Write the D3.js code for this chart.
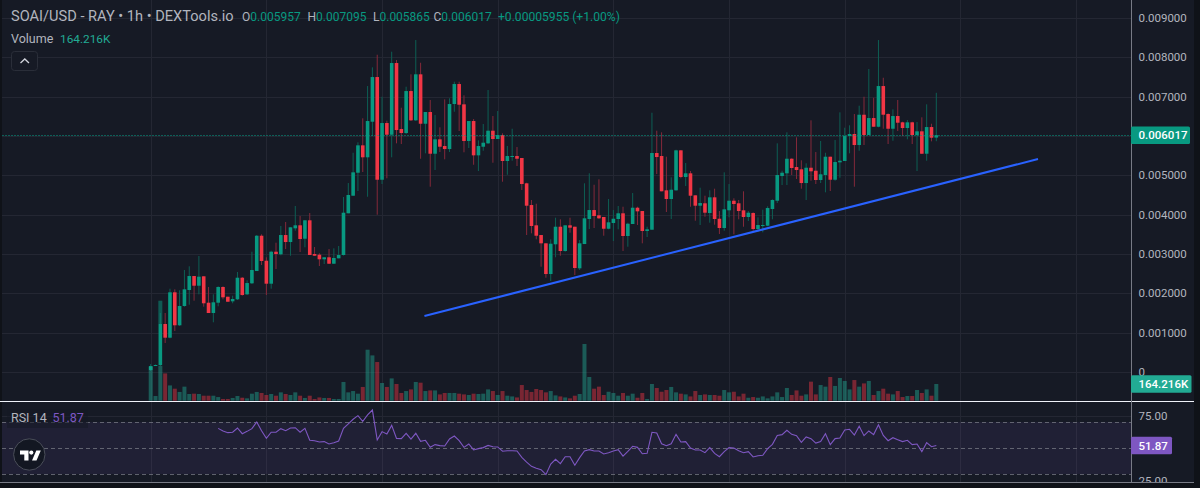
<!DOCTYPE html>
<html>
<head>
<meta charset="utf-8">
<script src="https://cdn.jsdelivr.net/npm/d3@7"></script>
<style>
  html, body { margin: 0; padding: 0; background: #0f1218; overflow: hidden; }
  text { font-family: Roboto, "Noto Sans", sans-serif; }
</style>
</head>
<body>
<div id="chart"></div>
<script>
// Prices are kept in millionths of a dollar, one entry per hourly candle
const opens = [
  51,152,178,1220,872,2025,1187,1677,2084,2439,
  2193,2432,1761,1499,1761,2160,1913,1796,1847,2396,
  1974,2254,2566,3463,2828,2244,3057,2991,3481,3303,
  3651,3728,3387,3855,2998,2981,2864,2915,2752,2889,
  2973,4033,4480,5064,5760,5456,6360,7496,4886,6327,
  6030,7852,6175,6073,7140,6396,7565,6309,6607,5547,
  5913,5743,5666,6810,7318,6802,5870,6378,5506,5725,
  5811,6132,5921,6022,5362,5471,5489,5438,4795,4243,
  3728,3481,3270,2490,3245,3692,3075,3728,3692,2635,
  3252,3888,4116,3982,3939,3641,3786,3888,4033,3456,
  3761,4175,4091,3583,3616,5565,5489,4617,4396,4617,
  5633,4955,5049,4490,4226,4287,4040,4439,3895,3659,
  4109,4353,4287,4109,3939,4040,3634,3718,3718,4142,
  4353,4980,5049,5420,5209,5151,4802,5191,5115,4879,
  5006,5471,4886,5328,5362,5997,6048,5768,6538,6022,
  6454,6233,7267,6556,6182,6505,6345,6200,6345,6022,
  6116,5547,6225,5957];
const closes = [
  152,178,1220,872,2025,1187,1677,2101,2439,2193,
  2422,1746,1499,1771,2160,1898,1786,1855,2396,1957,
  2261,2592,3463,2821,2244,3057,2998,3481,3303,3677,
  3728,3380,3855,2973,2955,2864,2915,2752,2897,2973,
  4048,4498,5074,5760,5456,6378,7496,4886,6327,6030,
  7852,6149,6073,7140,6396,7565,6309,6607,5547,5913,
  5725,5666,6810,7318,6792,5870,6378,5506,5743,5827,
  6132,5921,6022,5362,5489,5489,5420,4777,4226,3710,
  3463,3270,2490,3260,3692,3075,3728,3667,2643,3270,
  3906,4116,3964,3906,3641,3804,3895,4033,3456,3768,
  4175,4083,3583,3626,5565,5463,4592,4396,4632,5633,
  4955,5049,4480,4226,4294,4048,4439,3888,3659,4134,
  4353,4269,4091,3939,4048,3634,3735,3735,4167,4371,
  5006,5064,5420,5184,5133,4802,5191,5100,4879,5024,
  5471,4886,5336,5369,5997,6048,5768,6538,6022,6454,
  6233,7267,6538,6182,6505,6335,6200,6345,6022,6116,
  5547,6225,5954,6017];
const highs = [
  203,191,1499,1499,2117,2101,2076,2592,2686,2439,
  2948,2432,2160,1974,2178,2178,1913,1939,2541,2414,
  2330,3057,3481,3499,2915,3082,3286,3710,3812,3677,
  4218,3964,3855,4040,3176,3016,2915,3125,3143,3202,
  4447,4802,5572,5837,6447,7267,7742,8063,6995,6386,
  8139,7928,6716,7250,7565,8436,7859,6607,6912,6530,
  6218,6929,6955,7377,7377,7031,6378,6429,5887,6302,
  7166,6505,6632,6065,5743,6182,5717,5438,4810,4371,
  4277,3481,3270,3372,3921,3880,3728,3921,3692,3354,
  4795,5049,4759,4897,3939,4396,4116,4218,4200,3794,
  4548,4200,4091,3692,6589,6132,6091,5471,4947,5649,
  5641,5311,5107,4490,4683,4480,4617,4658,4091,5074,
  4777,4414,4371,4592,4091,4058,3931,4124,4211,4388,
  5811,5115,6091,5430,5964,5379,5303,6396,5590,5870,
  5572,5471,5895,6599,6208,6269,6556,6767,6995,7699,
  6970,8436,7478,6574,6675,6912,6360,6403,6360,6353,
  6472,6802,6309,7095];
const lows = [
  25,152,152,737,856,1042,1169,1659,1710,1812,
  1974,1659,1499,1263,1669,1847,1786,1746,1830,1939,
  1957,2236,2566,2719,1957,2117,2617,2965,3125,2955,
  3590,3049,3169,2973,2955,2693,2744,2744,2744,2889,
  2960,4033,4480,4599,5082,4454,5997,3997,4777,4922,
  5456,5811,5793,6048,6378,6378,5420,5557,4709,5133,
  5590,5405,5590,6614,6124,5583,5692,5267,5107,5623,
  5793,5318,5921,4836,5013,5369,5234,4625,3481,3524,
  3372,2676,2396,2312,2915,2955,3057,3540,2465,2592,
  3252,3634,3659,3888,3463,3626,3329,3626,3075,3184,
  3761,3735,3270,3430,3616,5031,4592,4066,3888,4607,
  4922,4726,4200,3845,3735,3946,3794,3743,3507,3590,
  3931,3499,3880,3692,3837,3590,3565,3550,3702,3880,
  4294,4752,4752,5006,4904,4658,4371,4861,4777,4802,
  4566,4599,4861,4937,5362,5557,4709,5623,5768,6022,
  6233,6218,6182,5793,5877,6124,5997,5913,5793,5107,
  5539,5369,5862,5865];

// Volume in thousands
const volumes = [
  334,46,344,268,150,118,86,138,66,69,
  66,49,49,49,36,17,17,27,46,29,
  23,69,86,76,56,66,49,82,66,56,
  82,49,27,49,17,32,27,27,17,17,
  184,82,95,69,135,501,445,380,174,135,
  219,164,76,95,111,184,177,95,101,101,
  62,76,76,76,69,62,56,69,66,69,
  111,95,56,95,49,42,32,154,105,86,
  115,105,82,95,52,42,32,23,49,66,
  557,233,118,138,56,88,76,49,76,49,
  69,29,76,17,164,125,88,105,135,82,
  69,62,42,95,56,62,56,56,49,105,
  82,88,42,69,29,36,29,42,23,42,
  82,36,125,56,101,49,62,187,62,154,
  138,233,145,223,194,111,203,138,170,194,
  56,95,118,69,62,95,36,46,46,105,
  76,111,49,164.216];

// RSI starts at candle 14
const rsiStart = 14;
const rsi = [
  65.1,63.1,61.8,62.1,65.4,61.0,62.8,64.9,70.0,63.3,
  57.4,62.1,62.1,64.9,63.3,65.4,65.6,62.1,65.1,55.9,
  55.6,54.6,54.9,53.1,54.1,55.4,65.1,68.5,72.1,74.9,
  70.5,75.4,79.2,56.2,62.6,60.8,67.4,57.4,57.2,61.3,
  56.9,61.3,55.1,55.9,50.5,52.6,51.8,51.5,56.9,59.2,
  55.6,50.5,53.1,48.5,49.5,50.3,52.0,51.0,50.8,47.5,
  47.9,47.9,47.7,42.8,39.2,35.9,34.4,33.3,29.5,37.7,
  41.3,38.0,43.3,43.3,36.7,42.6,47.7,48.7,47.7,47.7,
  45.4,46.4,47.7,48.7,43.8,47.4,51.3,50.5,45.6,45.9,
  62.1,61.5,53.3,51.8,53.3,60.5,54.6,54.9,50.0,48.5,
  48.5,46.4,50.3,45.9,43.3,47.2,50.3,50.0,47.9,46.4,
  47.2,43.1,44.1,44.4,49.5,52.8,59.7,60.3,63.6,60.5,
  59.5,54.4,58.5,57.2,53.8,54.9,61.0,52.6,57.2,57.7,
  63.8,64.4,60.0,66.7,59.5,63.1,60.3,67.9,59.7,55.6,
  57.9,56.4,54.9,55.9,52.6,53.1,47.2,54.1,51.0,51.87];

// Hand drawn trend line, in candle index and price
const trendIdx = [56.8, 184.1];
const trendPrice = [0.001423, 0.005412];

// The first big candle has a faded top above its body
const fadedTop = 0.001812;
const fadedIdx = 2;

const priceTicks = [0, 0.001, 0.002, 0.003, 0.004, 0.005, 0.006, 0.007, 0.008, 0.009];
const rsiTicks = [25, 75];
const rsiBand = [30, 50, 70];
const gridIdx = [0, 24, 48, 72, 96, 120, 144, 168, 192];

const lastPrice = 0.006017;
const lastVolume = 164.216;
const lastRsi = 51.87;

const W = 1200, H = 488;
const paneRight = 1131, outerRight = 1194, split = 401, bottom = 482;

const green = "#089981", red = "#f23645", tagGreen = "#22ab94", purple = "#7e57c2";
const textGrey = "#b2b5be";
const bg = "#161a25";

const x = d3.scaleLinear().domain([0, 163]).range([150.7, 936.3]);
const y = d3.scaleLinear().domain([0, 0.009]).range([372, 17.85]);
const vy = d3.scaleLinear().domain([0, 557]).range([400.7, 344]);
const ry = d3.scaleLinear().domain([25, 75]).range([480.5, 415.5]);

const svg = d3.select("#chart").append("svg").attr("width", W).attr("height", H).style("display", "block");

svg.append("rect").attr("x", 2).attr("y", 0).attr("width", outerRight - 2).attr("height", bottom).attr("fill", bg);

svg.append("clipPath").attr("id", "pane").append("rect").attr("x", 0).attr("y", 0).attr("width", outerRight).attr("height", bottom);
const root = svg.append("g").attr("clip-path", "url(#pane)");

// Grid
const grid = root.append("g").attr("stroke", "#242733").attr("stroke-width", 1);
grid.selectAll(".v").data(gridIdx).join("line")
  .attr("x1", d => Math.round(x(d)) + 0.5).attr("x2", d => Math.round(x(d)) + 0.5)
  .attr("y1", 0).attr("y2", bottom);
grid.selectAll(".h").data(priceTicks).join("line")
  .attr("x1", 2).attr("x2", paneRight)
  .attr("y1", d => Math.round(y(d)) + 0.5).attr("y2", d => Math.round(y(d)) + 0.5);
grid.append("line").attr("x1", 2).attr("x2", paneRight)
  .attr("y1", Math.round(ry(75)) + 0.5).attr("y2", Math.round(ry(75)) + 0.5);

// RSI band
root.append("rect").attr("x", 2).attr("width", paneRight - 2)
  .attr("y", ry(70)).attr("height", ry(30) - ry(70))
  .attr("fill", purple).attr("fill-opacity", 0.1);
root.selectAll(".band").data(rsiBand).join("line")
  .attr("x1", 2).attr("x2", paneRight)
  .attr("y1", d => Math.round(ry(d)) + 0.5).attr("y2", d => Math.round(ry(d)) + 0.5)
  .attr("stroke", "#787b86").attr("stroke-opacity", 0.75).attr("stroke-dasharray", "4 3");

// Candles
const idx = d3.range(opens.length);
const up = i => closes[i] >= opens[i];
const bodyW = 3.6;

root.append("g").selectAll("line").data(idx).join("line")
  .attr("x1", i => x(i)).attr("x2", i => x(i))
  .attr("y1", i => y(highs[i] / 1e6)).attr("y2", i => y(lows[i] / 1e6))
  .attr("stroke", i => up(i) ? "#0d5f54" : "#84293a").attr("stroke-width", 1);

root.append("rect").attr("x", x(fadedIdx) - 2).attr("width", 4)
  .attr("y", y(fadedTop)).attr("height", y(closes[fadedIdx] / 1e6) - y(fadedTop))
  .attr("fill", green).attr("fill-opacity", 0.5);

root.append("g").selectAll("rect").data(idx).join("rect")
  .attr("x", i => x(i) - bodyW / 2).attr("width", bodyW)
  .attr("y", i => y(Math.max(opens[i], closes[i]) / 1e6))
  .attr("height", i => Math.max(1, Math.abs(y(opens[i] / 1e6) - y(closes[i] / 1e6))))
  .attr("fill", i => up(i) ? green : red);

// Volume
root.append("g").selectAll("rect").data(idx).join("rect")
  .attr("x", i => x(i) - 2).attr("width", 4)
  .attr("y", i => vy(volumes[i]))
  .attr("height", i => vy(0) - vy(volumes[i]))
  .attr("fill", i => up(i) ? "#22ab94" : "#f23645")
  .attr("fill-opacity", 0.45);

// Last price line
root.append("line").attr("x1", 2).attr("x2", paneRight)
  .attr("y1", Math.round(y(lastPrice)) + 0.5).attr("y2", Math.round(y(lastPrice)) + 0.5)
  .attr("stroke", green).attr("stroke-opacity", 0.55).attr("stroke-dasharray", "2 1");

// Trend line
const trend = d3.line().x((d, i) => x(trendIdx[i])).y(d => y(d));
root.append("path").attr("d", trend(trendPrice)).attr("fill", "none")
  .attr("stroke", "#2962ff").attr("stroke-width", 2);

// RSI line
root.append("path")
  .attr("d", d3.line().x((d, i) => x(i + rsiStart)).y(d => ry(d))(rsi))
  .attr("fill", "none").attr("stroke", purple).attr("stroke-width", 1.1);

// Pane borders
svg.append("line").attr("x1", 0).attr("x2", outerRight).attr("y1", split + 0.5).attr("y2", split + 0.5)
  .attr("stroke", "#f0f3fa").attr("stroke-width", 1.2);
svg.append("line").attr("x1", 0).attr("x2", outerRight).attr("y1", bottom + 0.5).attr("y2", bottom + 0.5)
  .attr("stroke", "#787b86");
svg.append("line").attr("x1", paneRight + 0.5).attr("x2", paneRight + 0.5).attr("y1", 0).attr("y2", bottom)
  .attr("stroke", "#787b86");

// Price axis and RSI axis, labels only
const priceAxis = d3.axisRight(y).tickValues(priceTicks).tickSize(0).tickPadding(7.5)
  .tickFormat(d => d === 0 ? "0" : d3.format(".6f")(d));
const rsiAxis = d3.axisRight(ry).tickValues(rsiTicks).tickSize(0).tickPadding(7.5)
  .tickFormat(d3.format(".2f"));

[priceAxis, rsiAxis].forEach(a => {
  const g = root.append("g").attr("transform", `translate(${paneRight},0)`).call(a);
  g.select(".domain").remove();
  g.selectAll("text").attr("fill", textGrey).style("font-size", "11.5px").style("font-family", "Roboto");
});

// Value tags on the axis
function tag(val, scale, label, color, w) {
  const cy = scale(val);
  svg.append("rect").attr("x", paneRight).attr("y", cy - 8.7).attr("width", w).attr("height", 17.4)
    .attr("rx", 1.5).attr("fill", color);
  svg.append("text").attr("x", paneRight + 7.5).attr("y", cy + 4.2)
    .attr("fill", "#ffffff").attr("font-size", 11.5).attr("font-weight", 500).text(label);
}
tag(lastPrice, y, "0.006017", green, 59);
tag(lastVolume, vy, "164.216K", tagGreen, 60.5);
tag(lastRsi, ry, "51.87", purple, 41);

// Header legend
const legend = svg.append("g");
legend.append("text").attr("x", 11).attr("y", 20.5).attr("font-size", 14.6).attr("fill", textGrey).text("SOAI/USD - RAY • 1h • DEXTools.io");

const ohlcLabels = ["O", "H", "L", "C"];
const ohlcValues = ["0.005957", "0.007095", "0.005865", "0.006017"];
const ohlcX = [242, 307.5, 373, 433.5];
ohlcLabels.forEach((l, i) => {
  const t = legend.append("text").attr("x", ohlcX[i]).attr("y", 20.5).attr("font-size", 12);
  t.append("tspan").attr("fill", textGrey).text(l);
  t.append("tspan").attr("fill", green).text(ohlcValues[i]);
});
legend.append("text").attr("x", 498).attr("y", 20.5).attr("font-size", 12.1).attr("fill", green).text("+0.00005955 (+1.00%)");

svg.append("text").attr("x", 11).attr("y", 43).attr("font-size", 12.5).attr("fill", textGrey).text("Volume");
svg.append("text").attr("x", 60).attr("y", 43).attr("font-size", 11.8).attr("fill", tagGreen).text("164.216K");

// Collapse button
svg.append("rect").attr("x", 11.5).attr("y", 51.5).attr("width", 26).attr("height", 19).attr("rx", 3)
  .attr("fill", bg).attr("stroke", "#2a2e39");
svg.append("path").attr("d", "M20.5 63 L24.8 59 L29 63").attr("fill", "none").attr("stroke", "#d1d4dc").attr("stroke-width", 1.3);

// RSI legend
svg.append("rect").attr("x", 7).attr("y", 409).attr("width", 81).attr("height", 19).attr("fill", bg).attr("fill-opacity", 0.55);
svg.append("text").attr("x", 11).attr("y", 422).attr("font-size", 12.5).attr("fill", textGrey).text("RSI 14");
svg.append("text").attr("x", 52.5).attr("y", 422).attr("font-size", 12.5).attr("fill", purple).text("51.87");

// TradingView badge
svg.append("circle").attr("cx", 29.3).attr("cy", 454.5).attr("r", 15.7).attr("fill", "#131722").attr("stroke", "#4a4e59").attr("stroke-width", 1);
svg.append("path").attr("fill", "#ffffff")
  .attr("d", "M20 450.5 H28.5 V460.5 H24.3 V454.6 H20 Z M32 460.5 L36.3 450.5 H40.8 L36.5 460.5 Z");
svg.append("circle").attr("cx", 31.3).attr("cy", 452.6).attr("r", 2.1).attr("fill", "#ffffff");
</script>
</body>
</html>
